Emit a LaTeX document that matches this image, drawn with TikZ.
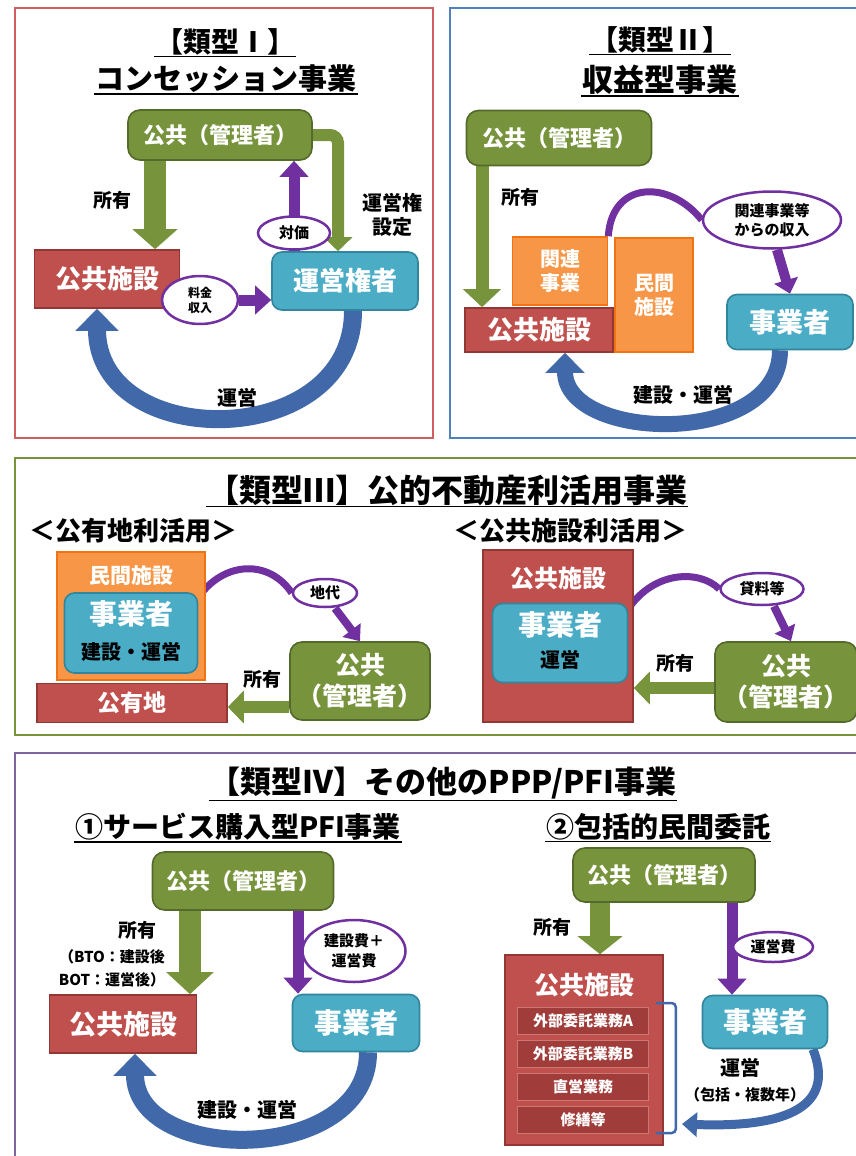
\documentclass[tikz,border=0pt]{standalone}
\usepackage{fontspec}
\setmainfont{Noto Sans CJK JP}
\usetikzlibrary{arrows.meta,shapes.geometric,calc}
\pgfdeclarelayer{bg}
\pgfsetlayers{bg,main}
\newcommand{\jfs}[2]{\fontsize{#1}{#2}\selectfont}
\definecolor{pgreen}{RGB}{119,147,60}
\definecolor{pgreenD}{RGB}{84,106,42}
\definecolor{pred}{RGB}{192,80,77}
\definecolor{predD}{RGB}{145,55,52}
\definecolor{prow}{RGB}{160,60,58}
\definecolor{prowB}{RGB}{205,120,115}
\definecolor{pblue}{RGB}{75,172,198}
\definecolor{pblueD}{RGB}{49,133,156}
\definecolor{porange}{RGB}{247,150,70}
\definecolor{porangeD}{RGB}{240,115,20}
\definecolor{ppurple}{RGB}{112,48,160}
\definecolor{parrowB}{RGB}{65,105,170}
\definecolor{fr1}{RGB}{205,95,95}
\definecolor{fr2}{RGB}{79,129,189}
\definecolor{fr3}{RGB}{119,147,60}
\definecolor{fr4}{RGB}{128,100,162}
\begin{document}
\begin{tikzpicture}[x=1pt,y=-1pt,
  bx/.style={draw, line width=1.6pt, text=white, inner sep=2pt, align=center},
  pub/.style={bx, fill=pgreen, draw=pgreenD, rounded corners=12pt},
  fac/.style={bx, fill=pred, draw=predD},
  opr/.style={bx, fill=pblue, draw=pblueD, rounded corners=10pt},
  orng/.style={bx, fill=porange, draw=porangeD},
  rowbox/.style={bx, fill=prow, draw=prowB, line width=1pt, minimum width=131pt, minimum height=27pt, font=\bfseries\jfs{15}{17}},
  wtxt/.style={text=white, inner sep=1pt, align=center},
  lab/.style={text=black, align=center, inner sep=1pt},
  ttl/.style={text=black, inner sep=1pt},
  ell/.style={ellipse, draw=ppurple, line width=2.5pt, fill=white, inner sep=0pt, align=center},
  garrow/.style n args={3}{draw=pgreen, line width=#1, -{Triangle[length=#3,width=#2]}},
  parrow/.style n args={3}{draw=ppurple, line width=#1, -{Triangle[length=#3,width=#2]}},
  barrow/.style n args={3}{draw=parrowB, line width=#1, -{Triangle[length=#3,width=#2]}},
  pline/.style={draw=ppurple, line width=7pt},
  pframe/.style={line width=2.5pt},
  uline/.style={line width=1.6pt},
]
\useasboundingbox (0,0) rectangle (856,1156);

% ================= Panel I =================
\node[ttl, font=\bfseries\jfs{28}{30}] (t1a) at (225,42) {【類型Ⅰ】};
\node[ttl, font=\bfseries\jfs{29}{31}] (t1b) at (226,79) {コンセッション事業};
\node[pub, minimum width=184pt, minimum height=50pt, font=\bfseries\jfs{22}{24}] (p1) at (220,135) {公共（管理者）};
\node[fac, minimum width=145pt, minimum height=58pt, font=\bfseries\jfs{26}{28}] (f1) at (107,279) {公共施設};
\node[opr, minimum width=146pt, minimum height=58pt, font=\bfseries\jfs{26}{28}] (o1) at (345,281) {運営権者};
\node[lab, font=\bfseries\jfs{19}{21}] (l1a) at (112,200) {所有};
\node[lab, font=\bfseries\jfs{20}{24}] (l1b) at (392,215) {運営権\\設定};
\node[ell, minimum width=72pt, minimum height=33pt, font=\bfseries\jfs{15}{17}] (e1a) at (294,233) {対価};
\node[ell, minimum width=76pt, minimum height=48pt, font=\bfseries\jfs{12}{15}] (e1b) at (200,300) {料金\\収入};
\node[lab, font=\bfseries\jfs{20}{22}] (l1c) at (237,398) {運営};

% ================= Panel II =================
\node[ttl, font=\bfseries\jfs{28}{30}] (t2a) at (660,40) {【類型Ⅱ】};
\node[ttl, font=\bfseries\jfs{31}{33}] (t2b) at (660,80) {収益型事業};
\node[pub, minimum width=185pt, minimum height=55pt, font=\bfseries\jfs{22}{24}] (p2) at (559,138) {公共（管理者）};
\node[orng, minimum width=95pt, minimum height=68pt, font=\bfseries\jfs{20}{24}] (k2) at (560,271) {関連\\事業};
\node[orng, minimum width=78pt, minimum height=114pt, font=\bfseries\jfs{20}{24}] (m2) at (654,295) {民間\\施設};
\node[fac, minimum width=148pt, minimum height=44pt, font=\bfseries\jfs{26}{28}] (f2) at (539,330) {公共施設};
\node[opr, minimum width=126pt, minimum height=55pt, font=\bfseries\jfs{27}{29}] (j2) at (790,322) {事業者};
\node[lab, font=\bfseries\jfs{19}{21}] (l2a) at (520,197) {所有};
\node[ell, minimum width=138pt, minimum height=57pt, font=\bfseries\jfs{15}{19}] (e2) at (772,220) {関連事業等\\からの収入};
\node[lab, font=\bfseries\jfs{20}{22}] (l2b) at (683,395) {建設・運営};

% ================= Panel III =================
\node[ttl, font=\bfseries\jfs{32}{34}] (t3) at (447,490) {【類型Ⅲ】公的不動産利活用事業};
\node[lab, font=\bfseries\jfs{26}{28}] (s3a) at (133,531) {＜公有地利活用＞};
\node[lab, font=\bfseries\jfs{26}{28}] (s3b) at (570,531) {＜公共施設利活用＞};
\node[orng, minimum width=148pt, minimum height=128pt] (m3) at (131,616) {};
\node[wtxt, font=\bfseries\jfs{21}{23}] (m3t) at (131,576) {民間施設};
\node[opr, minimum width=133pt, minimum height=80pt] (j3) at (131,633) {};
\node[wtxt, font=\bfseries\jfs{28}{30}] (j3t) at (131,614) {事業者};
\node[lab, font=\bfseries\jfs{20}{22}] (j3u) at (131,652) {建設・運営};
\node[fac, minimum width=190pt, minimum height=39pt, font=\bfseries\jfs{23}{25}] (k3) at (132,703) {公有地};
\node[pub, minimum width=140pt, minimum height=78pt, font=\bfseries\jfs{25}{31}] (p3a) at (360,681) {公共\\（管理者）};
\node[lab, font=\bfseries\jfs{19}{21}] (l3b) at (262,679) {所有};
\node[ell, minimum width=64pt, minimum height=28pt, font=\bfseries\jfs{15}{17}] (e3a) at (325,593) {地代};
\node[fac, minimum width=150pt, minimum height=172pt] (f3) at (558,636) {};
\node[wtxt, font=\bfseries\jfs{24}{26}] (f3t) at (558,578) {公共施設};
\node[opr, minimum width=135pt, minimum height=79pt] (j3b) at (560,643) {};
\node[wtxt, font=\bfseries\jfs{28}{30}] (j3bt) at (560,625) {事業者};
\node[lab, font=\bfseries\jfs{20}{22}] (j3bu) at (560,660) {運営};
\node[pub, minimum width=142pt, minimum height=80pt, font=\bfseries\jfs{25}{31}] (p3b) at (786,682) {公共\\（管理者）};
\node[lab, font=\bfseries\jfs{19}{21}] (l3c) at (675,663) {所有};
\node[ell, minimum width=83pt, minimum height=32pt, font=\bfseries\jfs{15}{17}] (e3b) at (762,589) {貸料等};

% ================= Panel IV =================
\node[ttl, font=\bfseries\jfs{31}{33}] (t4) at (443,783) {【類型Ⅳ】その他のPPP/PFI事業};
\node[ttl, font=\bfseries\jfs{28}{30}] (t4a) at (238,827) {①サービス購入型PFI事業};
\node[ttl, font=\bfseries\jfs{28}{30}] (t4b) at (658,827) {②包括的民間委託};
\node[pub, minimum width=181pt, minimum height=58pt, font=\bfseries\jfs{22}{24}] (p4a) at (243,881) {公共（管理者）};
\node[fac, minimum width=147pt, minimum height=58pt, font=\bfseries\jfs{27}{29}] (f4a) at (123,1024) {公共施設};
\node[opr, minimum width=127pt, minimum height=57pt, font=\bfseries\jfs{28}{30}] (o4a) at (356,1023) {事業者};
\node[lab, font=\bfseries\jfs{19}{21}] (l4a) at (137,930) {所有};
\node[lab, font=\bfseries\jfs{15}{23}] (l4a2) at (112,968) {（BTO：建設後\\BOT：運営後）};
\node[ell, minimum width=103pt, minimum height=62pt, font=\bfseries\jfs{15}{20}] (e4a) at (354,951) {建設費＋\\運営費};
\node[lab, font=\bfseries\jfs{20}{22}] (l4b) at (247,1110) {建設・運営};

\node[pub, minimum width=182pt, minimum height=54pt, font=\bfseries\jfs{22}{24}] (p4b) at (664,875) {公共（管理者）};
\node[lab, font=\bfseries\jfs{19}{21}] (l4c) at (552,927) {所有};
\node[ell, minimum width=80pt, minimum height=30pt, font=\bfseries\jfs{15}{17}] (e4b) at (773,947) {運営費};
\node[fac, minimum width=158pt, minimum height=190pt] (f4b) at (584,1050) {};
\node[wtxt, font=\bfseries\jfs{25}{27}] (f4bt) at (584,985) {公共施設};
\node[rowbox] (r1) at (583,1021) {外部委託業務A};
\node[rowbox] (r2) at (583,1054) {外部委託業務B};
\node[rowbox] (r3) at (583,1087) {直営業務};
\node[rowbox] (r4) at (583,1120) {修繕等};
\node[opr, minimum width=125pt, minimum height=53pt, font=\bfseries\jfs{28}{30}] (o4b) at (765,1022) {事業者};
\node[lab, font=\bfseries\jfs{20}{22}] (l4d) at (740,1068) {運営};
\node[lab, font=\bfseries\jfs{15}{17}] (l4e) at (745,1095) {（包括・複数年）};
\coordinate (bk) at (682,1124);

% underlines
\foreach \t in {t1a,t1b,t2a,t2b,t3,t4,t4a,t4b}
  \draw[uline] (\t.south west) -- (\t.south east);

% bracket
\draw[draw=parrowB, line width=2.5pt, rounded corners=4pt] ([xshift=-8pt,yshift=4pt]f4b.east |- r1.north) coordinate (b1) -- ++(20,0) -- ++(0,130) -- ++(-20,0);

\begin{pgfonlayer}{bg}
\fill[white] (0,0) rectangle (856,1156);
% frames
\draw[pframe, draw=fr1] (15,8) rectangle (433,438);
\draw[pframe, draw=fr2] (450,8) rectangle (862,438);
\draw[pframe, draw=fr3] (15,458) rectangle (862,735);
\draw[pframe, draw=fr4] (15,753) rectangle (862,1162);

% Panel I connectors
\draw[garrow={22pt}{44pt}{20pt}] ([xshift=-65pt]p1.south) -- ([xshift=48pt]f1.north);
\draw[garrow={12pt}{28pt}{14pt}, rounded corners=8pt] (p1.east) -| ([xshift=-7pt]o1.north);
\draw[parrow={11pt}{28pt}{16pt}] ([xshift=-51pt]o1.north) -- ([xshift=74pt]p1.south);
\draw[parrow={11pt}{28pt}{16pt}] (e1b.east) coordinate (s1) -- (s1 -| o1.west);
\draw[barrow={18pt}{42pt}{22pt}] ([xshift=8pt]o1.south) .. controls (353,452) and (97,452) .. ([xshift=-10pt]f1.south);

% Panel II connectors
\draw[garrow={13pt}{37pt}{18pt}] ([xshift=-77pt]p2.south) -- ([xshift=-57pt]f2.north);
\draw[pline] (k2.north east) .. controls (612,180) and (670,180) .. (e2.west);
\draw[parrow={10pt}{24pt}{14pt}] ([xshift=5pt]e2.south) -- (j2.north);
\draw[barrow={16pt}{38pt}{20pt}] ([xshift=-10pt]j2.south) .. controls (780,448) and (565,442) .. ([xshift=26pt]f2.south);

% Panel III connectors
\draw[garrow={12pt}{32pt}{16pt}] ([yshift=-26pt]p3a.west) coordinate (s3) -- (s3 -| k3.east);
\draw[pline] ([yshift=-5pt]j3.north east) .. controls (225,560) and (270,560) .. (e3a.west);
\draw[parrow={8pt}{22pt}{14pt}] ([xshift=10pt]e3a.south) -- (p3a.north);
\draw[garrow={12pt}{32pt}{16pt}] ([yshift=-6pt]p3b.west) coordinate (s4) -- (s4 -| f3.east);
\draw[pline] ([yshift=-6pt]j3b.north east) .. controls (655,570) and (700,570) .. (e3b.west);
\draw[parrow={8pt}{22pt}{14pt}] ([xshift=12pt]e3b.south) -- ([xshift=5pt]p3b.north);

% Panel IV connectors
\draw[garrow={22pt}{46pt}{22pt}] ([xshift=-53pt]p4a.south) -- ([xshift=67pt]f4a.north);
\draw[parrow={11pt}{28pt}{16pt}] ([xshift=55pt]p4a.south) -- ([xshift=-58pt]o4a.north);
\draw[barrow={18pt}{42pt}{22pt}] ([xshift=12pt]o4a.south) .. controls (368,1165) and (135,1165) .. ([xshift=12pt]f4a.south);
\draw[garrow={20pt}{44pt}{18pt}] ([xshift=-64pt]p4b.south) -- ([xshift=16pt]f4b.north);
\draw[parrow={11pt}{28pt}{16pt}] ([xshift=68pt]p4b.south) -- ([xshift=-33pt]o4b.north);
\draw[barrow={9pt}{24pt}{15pt}] ([xshift=48pt]o4b.south) .. controls (835,1105) and (790,1128) .. (bk);
\end{pgfonlayer}
\end{tikzpicture}
\end{document}
